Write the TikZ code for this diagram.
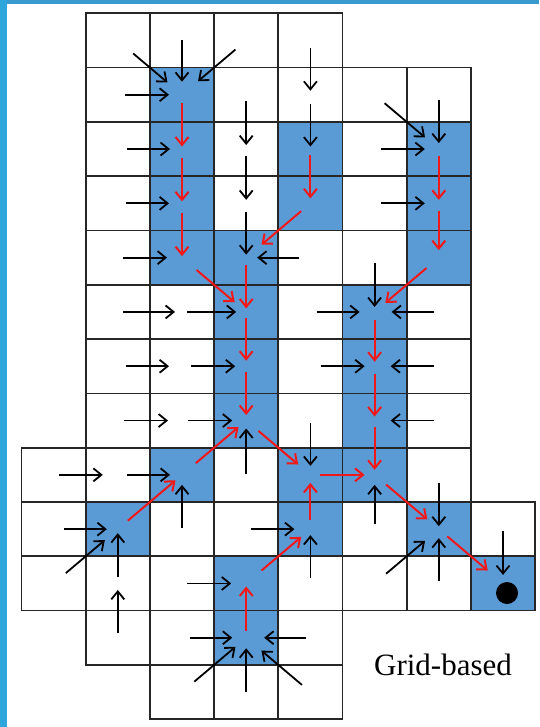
\documentclass[tikz,border=0pt]{standalone}
\usepackage{fontspec}
\setmainfont{Liberation Serif}
\usetikzlibrary{calc,arrows.meta}
\definecolor{cellblue}{HTML}{5B9BD5}
\definecolor{edgeblue}{HTML}{2EA6DC}
\definecolor{topblue}{HTML}{3A9AD0}
\definecolor{flowred}{HTML}{F01818}
\newcommand\fl[5]{\draw[#1] ($(#3)!#4pt!(#2)$) -- ($(#3)!#5pt!(#2)$);}
\begin{document}
\begin{tikzpicture}[x=1pt,y=-1pt,
 gridline/.style={draw=black!85,line width=1.7pt},
 blk/.style={draw=black,line width=1.8pt,-{Straight Barb[length=8pt,width=13pt]}},
 redarr/.style={draw=flowred,line width=2pt,-{Straight Barb[length=8pt,width=13pt]}},
 ]
\useasboundingbox (0,0) rectangle (539,727);
\fill[white] (0,0) rectangle (539,727);
\fill[topblue] (0,0) rectangle (539,4);
\fill[edgeblue] (0,0) rectangle (7,727);
% cell centres
\foreach \c in {0,...,7}{\foreach \r in {0,...,12}{\coordinate (n\c-\r) at ({53.6+64.2*\c},{40.45+54.3*\r});}}
% blue cells
\foreach \c/\r in {2/1,2/2,4/2,6/2,2/3,4/3,6/3,2/4,3/4,6/4,3/5,5/5,3/6,5/6,3/7,5/7,2/8,4/8,5/8,1/9,4/9,6/9,3/10,7/10,3/11}
  {\fill[cellblue] ({21.5+64.2*\c},{13.3+54.3*\r}) rectangle ++(64.2,54.3);}
% grid
\foreach \r/\a/\b in {0/1/4,1/1/6,2/1/6,3/1/6,4/1/6,5/1/6,6/1/6,7/1/6,8/0/6,9/0/7,10/0/7,11/1/4,12/2/4}
  {\foreach \c in {\a,...,\b}{\draw[gridline] ({21.5+64.2*\c},{13.3+54.3*\r}) rectangle ++(64.2,54.3);}}
% black flow arrows
\fl{blk}{n1-0}{n2-1}{64}{19}
\fl{blk}{n2-0}{n2-1}{55}{13}
\fl{blk}{n3-0}{n2-1}{70}{21}
\fl{blk}{n1-1}{n2-1}{57}{13}
\fl{blk}{n4-0}{n4-1}{47}{4}
\fl{blk}{n3-1}{n3-2}{48}{4}
\fl{blk}{n4-1}{n4-2}{45}{2.5}
\fl{blk}{n5-1}{n6-2}{71}{18}
\fl{blk}{n6-1}{n6-2}{49}{6}
\fl{blk}{n1-2}{n2-2}{55}{12}
\fl{blk}{n3-2}{n3-3}{47}{3.5}
\fl{blk}{n5-2}{n6-2}{58}{14}
\fl{blk}{n1-3}{n2-3}{56}{13}
\fl{blk}{n3-3}{n3-4}{46}{3}
\fl{blk}{n5-3}{n6-3}{58}{14}
\fl{blk}{n1-4}{n2-4}{59}{15}
\fl{blk}{n4-4}{n3-4}{53}{11}
\fl{blk}{n5-4}{n5-5}{49}{5}
\fl{blk}{n1-5}{n2-5}{59}{7}
\fl{blk}{n2-5}{n3-5}{59}{10}
\fl{blk}{n4-5}{n5-5}{58}{15}
\fl{blk}{n6-5}{n5-5}{59}{17}
\fl{blk}{n1-6}{n2-6}{56}{13}
\fl{blk}{n2-6}{n3-6}{55}{11}
\fl{blk}{n4-6}{n5-6}{54}{10}
\fl{blk}{n6-6}{n5-6}{59}{16}
\fl{blk}{n1-7}{n2-7}{58}{14}
\fl{blk}{n2-7}{n3-7}{58}{14}
\fl{blk}{n6-7}{n5-7}{59}{16}
\fl{blk}{n3-8}{n3-7}{53}{8}
\fl{blk}{n4-7}{n4-8}{52}{9}
\fl{blk}{n0-8}{n1-8}{59}{15}
\fl{blk}{n1-8}{n2-8}{55}{12}
\fl{blk}{n6-8}{n6-9}{46}{3}
\fl{blk}{n2-9}{n2-8}{53}{10}
\fl{blk}{n5-9}{n5-8}{49}{10}
\fl{blk}{n0-9}{n1-9}{54}{11}
\fl{blk}{n0-10}{n1-9}{68}{17}
\fl{blk}{n1-10}{n1-9}{48}{4}
\fl{blk}{n1-11}{n1-10}{50}{6.5}
\fl{blk}{n3-9}{n4-9}{59}{16}
\fl{blk}{n4-10}{n4-9}{49}{6}
\fl{blk}{n5-10}{n6-9}{69}{18}
\fl{blk}{n6-10}{n6-9}{52}{9}
\fl{blk}{n7-9}{n7-10}{52}{8.5}
\fl{blk}{n2-10}{n3-10}{59}{15}
\fl{blk}{n2-11}{n3-11}{56}{14}
\fl{blk}{n4-11}{n3-11}{60}{18}
\fl{blk}{n2-12}{n3-11}{68}{14}
\fl{blk}{n3-12}{n3-11}{54}{10.5}
\fl{blk}{n4-12}{n3-11}{73}{20}
% red path arrows
\fl{redarr}{n2-1}{n2-2}{46}{2.5}
\fl{redarr}{n2-2}{n2-3}{45}{2}
\fl{redarr}{n4-2}{n4-3}{48}{5}
\fl{redarr}{n6-2}{n6-3}{47}{3.5}
\fl{redarr}{n2-3}{n2-4}{45}{1.5}
\fl{redarr}{n4-3}{n3-4}{72}{20}
\fl{redarr}{n6-3}{n6-4}{47}{7.5}
\fl{redarr}{n2-4}{n3-5}{65}{15}
\fl{redarr}{n3-4}{n3-5}{47}{3.5}
\fl{redarr}{n6-4}{n5-5}{68}{14}
\fl{redarr}{n3-5}{n3-6}{48}{5.5}
\fl{redarr}{n5-5}{n5-6}{46}{4.5}
\fl{redarr}{n3-6}{n3-7}{49}{5.5}
\fl{redarr}{n5-6}{n5-7}{47}{4}
\fl{redarr}{n5-7}{n5-8}{48}{5}
\fl{redarr}{n2-8}{n3-7}{66}{10}
\fl{redarr}{n3-7}{n4-8}{68}{16}
\fl{redarr}{n4-8}{n5-8}{55}{10}
\fl{redarr}{n1-9}{n2-8}{71}{8.5}
\fl{redarr}{n4-9}{n4-8}{45}{8}
\fl{redarr}{n5-8}{n6-9}{69}{15}
\fl{redarr}{n3-10}{n4-9}{64}{12}
\fl{redarr}{n6-9}{n7-10}{73}{20}
\fl{redarr}{n3-11}{n3-10}{48}{3}
% goal and label
\node[circle,fill=black,minimum size=22pt,inner sep=0pt] (goal) at (507,593) {};
\node[anchor=base,font=\fontsize{31}{37}\selectfont] (lbl) at (443,675) {Grid-based};
\end{tikzpicture}
\end{document}
